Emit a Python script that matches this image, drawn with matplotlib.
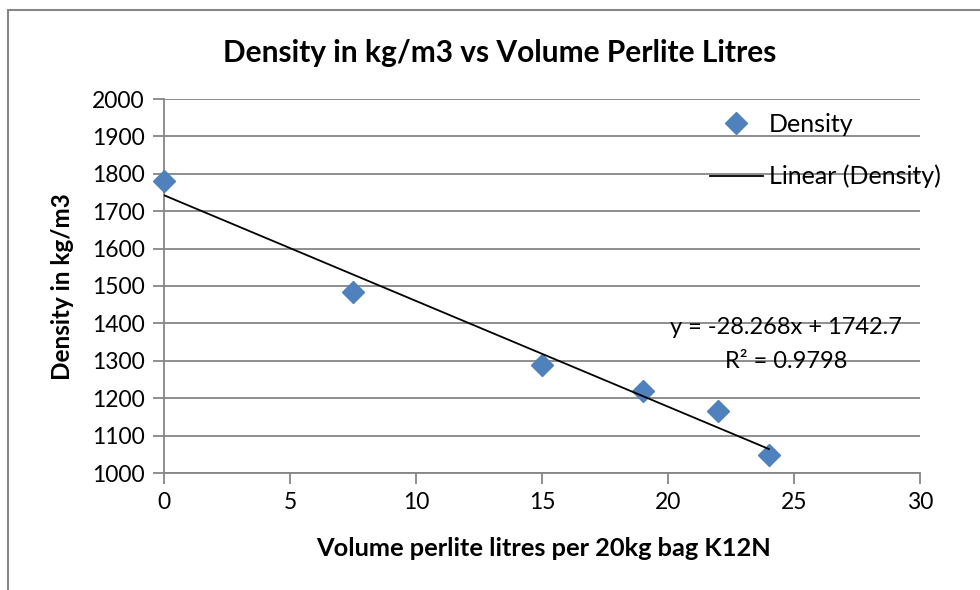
"""
Density vs perlite volume, Excel-style scatter with linear trendline.
"""
from matplotlib import pyplot as plt
from matplotlib.patches import Rectangle

# data
volume = [0, 7.5, 15, 19, 22, 24]
density = [1780, 1483, 1290, 1220, 1165, 1047]
slope = -28.268
intercept = 1742.7
r_squared = 0.9798
x_ticks = [0, 5, 10, 15, 20, 25, 30]
y_ticks = [1000, 1100, 1200, 1300, 1400, 1500, 1600, 1700, 1800, 1900, 2000]

plt.rcParams['font.family'] = ['Lato', 'DejaVu Sans']
grey = '#868686'

fig = plt.figure(figsize=(9.8, 5.9), dpi=100)
ax = fig.add_axes([164 / 980, 1 - 473 / 590, 756 / 980, 374 / 590])

# outer chart border (runs past the right and bottom edge)
fig.patches.append(Rectangle((8 / 980, -0.1), 1.1, 1 - 10 / 590 + 0.1,
                             transform=fig.transFigure, fill=False,
                             edgecolor=grey, lw=1.5))

trend_x = [min(volume), max(volume)]
trend_y = [slope * x + intercept for x in trend_x]

ax.plot(volume, density, linestyle='none', marker='D', markersize=11.5,
        color='#4F81BD', label='Density', zorder=3, clip_on=False)
ax.plot(trend_x, trend_y, color='black', lw=1.3, label='Linear (Density)', zorder=4)

ax.set_xlim(0, 30)
ax.set_ylim(1000, 2000)
ax.set_xticks(x_ticks)
ax.set_yticks(y_ticks)
ax.grid(axis='y', color=grey, lw=1.3)
ax.set_axisbelow(True)
for side in ['top', 'right']:
	ax.spines[side].set_visible(False)
for side in ['left', 'bottom']:
	ax.spines[side].set_color(grey)
	ax.spines[side].set_linewidth(1.3)
ax.tick_params(axis='both', colors=grey, width=1.3, length=8, labelsize=16.5,
               labelcolor='black')
ax.tick_params(axis='y', pad=6)
ax.tick_params(axis='x', pad=6)
ax.patch.set_visible(False)

fig.text(0.510, 1 - 53 / 590, 'Density in kg/m3 vs Volume Perlite Litres',
         ha='center', va='center', fontsize=21.5, fontweight='bold')
fig.text(544 / 980, 1 - 549 / 590, 'Volume perlite litres per 20kg bag K12N',
         ha='center', va='center', fontsize=18.3, fontweight='bold')
fig.text(62 / 980, 1 - 287 / 590, 'Density in kg/m3', rotation=90,
         ha='center', va='center', fontsize=17.5, fontweight='bold')

fig.text(786 / 980, 1 - 328 / 590, 'y = -28.268x + 1742.7',
         ha='center', va='center', fontsize=17)
fig.text(786 / 980, 1 - 361 / 590, 'R\u00b2 = %.4f' % r_squared,
         ha='center', va='center', fontsize=17)

leg = ax.legend(loc='upper left', bbox_to_anchor=(710 / 980, 1 - 113 / 590),
                bbox_transform=fig.transFigure, frameon=False, fontsize=18,
                handlelength=2.1, handletextpad=0.25, labelspacing=1.15,
                borderpad=0, borderaxespad=0)

fig.savefig('out.png', dpi=100)
